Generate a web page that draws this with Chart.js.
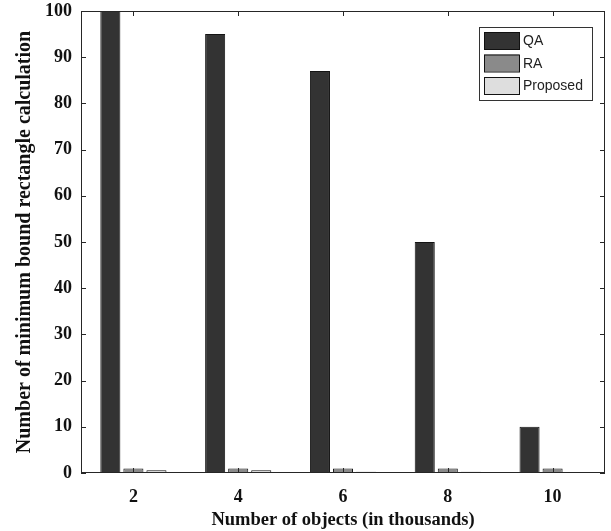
<!DOCTYPE html>
<html>
<head>
<meta charset="utf-8">
<script src="https://cdn.jsdelivr.net/npm/chart.js@4/dist/chart.umd.min.js"></script>
<style>
  html, body { margin: 0; padding: 0; background: #fff; }
  #wrap { width: 611px; height: 531px; position: relative; }
</style>
</head>
<body>
<div id="wrap"><canvas id="c"></canvas></div>
<script>
/* values */
var categories = ['2', '4', '6', '8', '10'];
var qaValues = [100, 95, 87, 50, 10];
var raValues = [1.0, 1.0, 1.0, 1.0, 1.0];
var proposedValues = [0.6, 0.6, 0.25, 0.25, 0.08];
var seriesNames = ['QA', 'RA', 'Proposed'];
var seriesColors = ['#333333', '#8a8a8a', '#dedede'];
var yTicks = [0, 10, 20, 30, 40, 50, 60, 70, 80, 90, 100];

var SERIF = "'Liberation Serif', 'Times New Roman', serif";
var SANS = "'Liberation Sans', Arial, sans-serif";
var INK = '#111';

/* MATLAB-style frame: box on all four sides, ticks pointing inward */
Chart.register({
  id: 'boxTicks',
  afterDatasetsDraw: function (c) {
    var a = c.chartArea, g = c.ctx, xs = c.scales.x, ys = c.scales.y, L = 5;
    g.save();
    g.strokeStyle = '#262626';
    g.lineWidth = 1;
    g.strokeRect(a.left + 0.5, a.top + 0.5, a.right - a.left - 1, a.bottom - a.top - 1);
    g.beginPath();
    xs.ticks.forEach(function (t, i) {
      var x = Math.round(xs.getPixelForTick(i)) + 0.5;
      g.moveTo(x, a.bottom); g.lineTo(x, a.bottom - L);
      g.moveTo(x, a.top); g.lineTo(x, a.top + L);
    });
    ys.ticks.forEach(function (t, i) {
      var y = Math.round(ys.getPixelForTick(i)) + 0.5;
      g.moveTo(a.left, y); g.lineTo(a.left + L, y);
      g.moveTo(a.right, y); g.lineTo(a.right - L, y);
    });
    g.stroke();
    g.restore();
  }
});

/* boxed legend in the upper right of the plot area */
Chart.register({
  id: 'boxLegend',
  afterDraw: function (c) {
    var a = c.chartArea, g = c.ctx;
    var w = 113, h = 73, x0 = a.right - 13 - w, y0 = a.top + 16;
    g.save();
    g.fillStyle = '#fff';
    g.fillRect(x0, y0, w, h);
    g.strokeStyle = '#333';
    g.lineWidth = 1;
    g.strokeRect(x0 + 0.5, y0 + 0.5, w, h);
    g.font = '14px ' + SANS;
    g.textBaseline = 'middle';
    g.textAlign = 'left';
    c.data.datasets.forEach(function (ds, i) {
      var sy = y0 + 5 + i * 22.5;
      g.fillStyle = ds.backgroundColor;
      g.fillRect(x0 + 5, sy, 35, 17);
      g.strokeStyle = '#111';
      g.strokeRect(x0 + 5.5, sy + 0.5, 35, 17);
      g.fillStyle = '#222';
      g.fillText(ds.label, x0 + 44, sy + 9.5);
    });
    g.restore();
  }
});

function makeSet(i, data) {
  return {
    label: seriesNames[i],
    data: data,
    backgroundColor: seriesColors[i],
    borderColor: '#141414',
    borderWidth: 1,
    borderSkipped: false,
    barPercentage: 0.87,
    categoryPercentage: 0.66
  };
}

new Chart(document.getElementById('c'), {
  type: 'bar',
  data: {
    labels: categories,
    datasets: [makeSet(0, qaValues), makeSet(1, raValues), makeSet(2, proposedValues)]
  },
  options: {
    responsive: true,
    maintainAspectRatio: false,
    animation: false,
    devicePixelRatio: 1,
    layout: { padding: { top: 11, right: 6, left: 0, bottom: 0 } },
    plugins: { legend: { display: false }, tooltip: { enabled: false } },
    scales: {
      x: {
        grid: { display: false, drawTicks: false },
        border: { display: false },
        ticks: { color: INK, padding: 14, maxRotation: 0, font: { family: SERIF, size: 18, weight: 'bold' } },
        title: {
          display: true, text: 'Number of objects (in thousands)', color: INK,
          padding: { top: 0, bottom: 0 },
          font: { family: SERIF, size: 18.5, weight: 'bold' }
        },
        afterFit: function (s) { s.height = 58; s.paddingLeft = 0; s.paddingRight = 0; }
      },
      y: {
        min: 0, max: 100,
        afterBuildTicks: function (s) { s.ticks = yTicks.map(function (v) { return { value: v }; }); },
        grid: { display: false, drawTicks: false },
        border: { display: false },
        ticks: { color: INK, padding: 9, font: { family: SERIF, size: 18, weight: 'bold' } },
        title: {
          display: true, text: 'Number of minimum bound rectangle calculation', color: INK,
          padding: { top: 13, bottom: 0 },
          font: { family: SERIF, size: 20, weight: 'bold' }
        },
        afterFit: function (s) { s.width = 81; s.paddingTop = 0; s.paddingBottom = 0; }
      }
    }
  }
});
</script>
</body>
</html>
